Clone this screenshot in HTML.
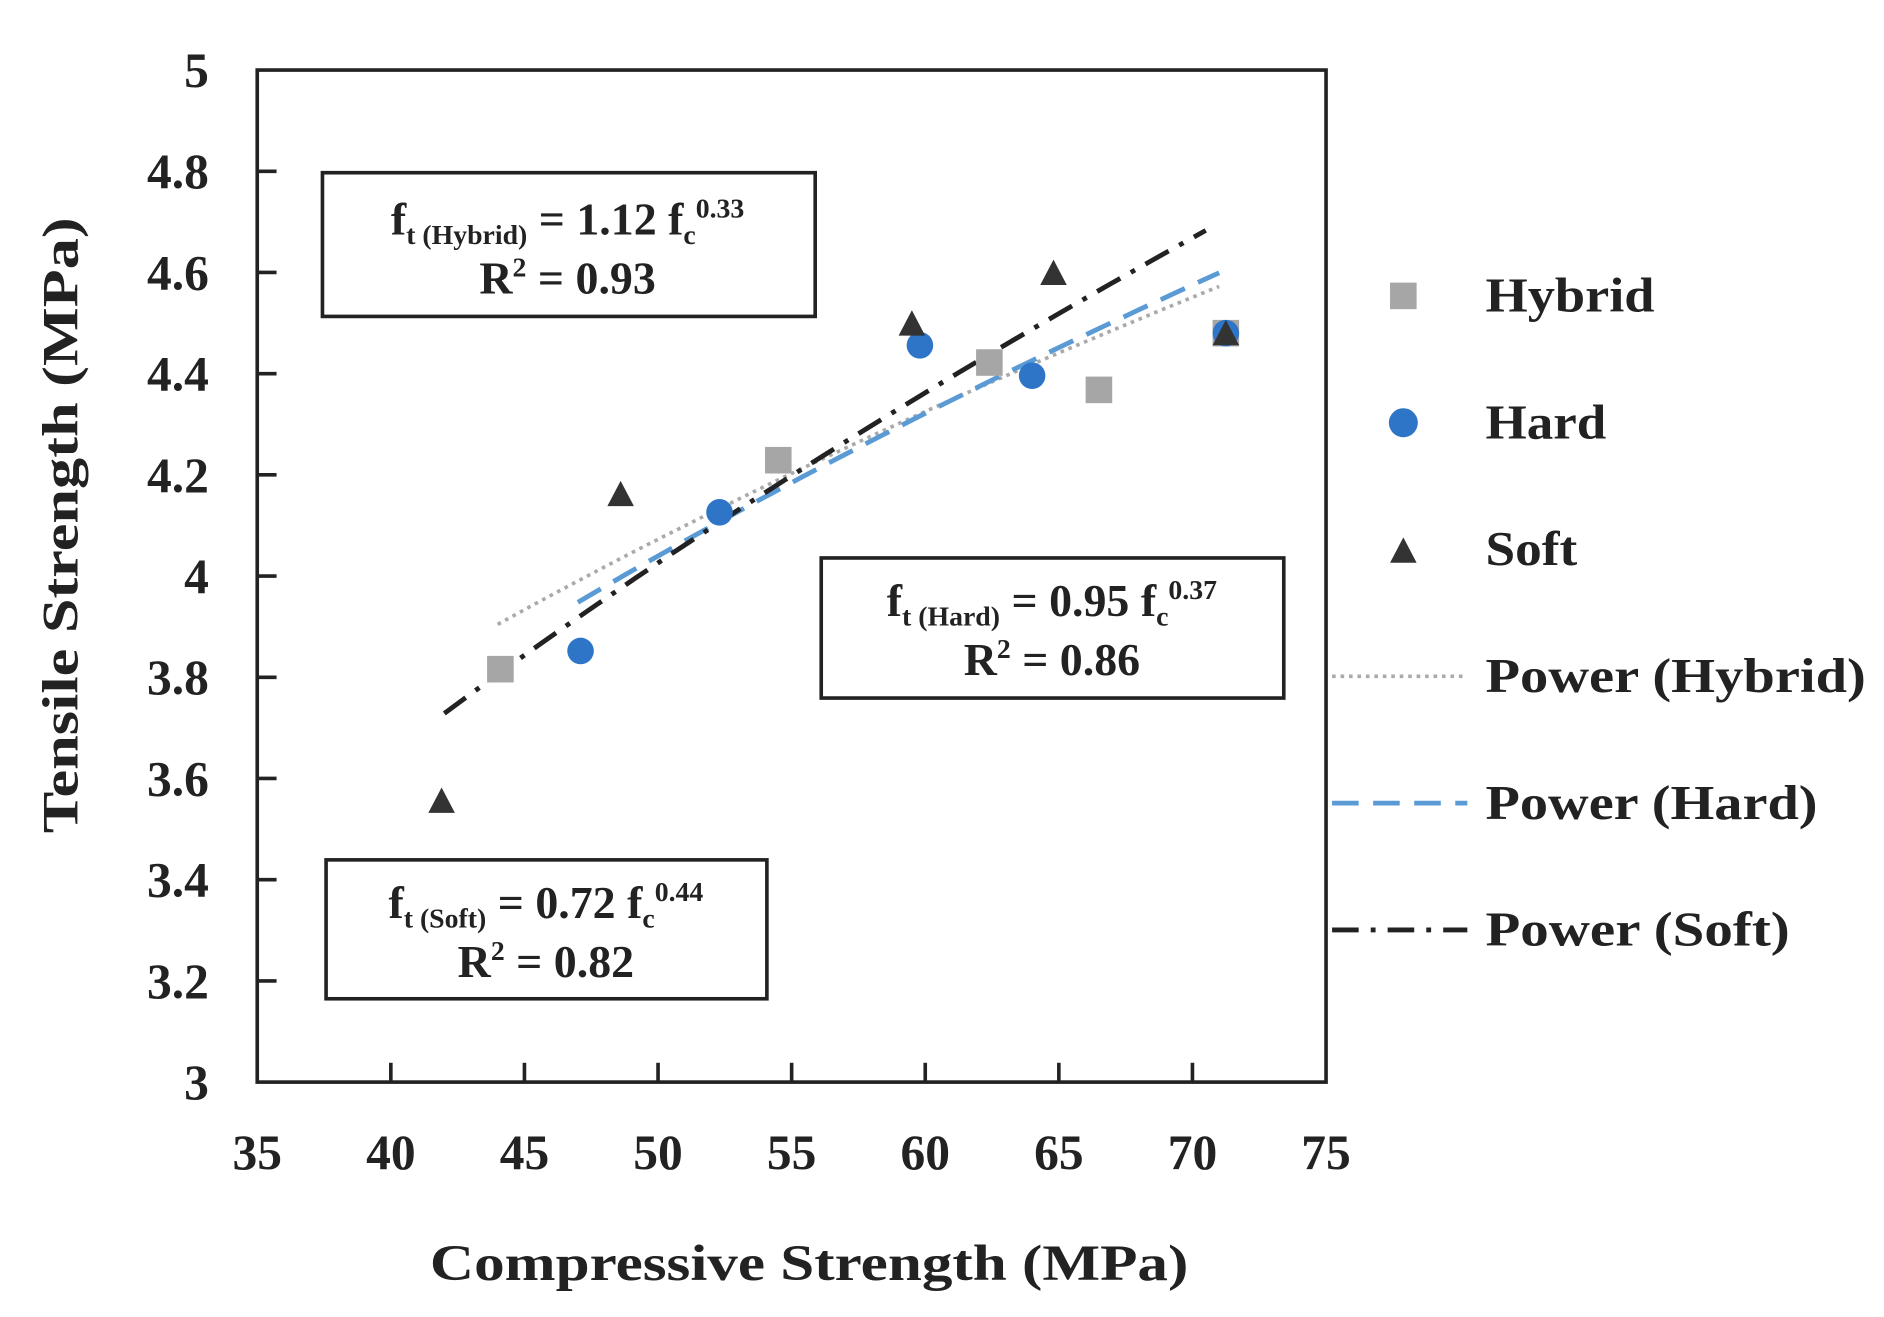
<!DOCTYPE html>
<html><head><meta charset="utf-8"><style>
html,body{margin:0;padding:0;background:#fff;}
svg{display:block;}
text{font-family:"Liberation Serif",serif;font-weight:bold;fill:#222;}
</style></head><body>
<svg id="chart" width="1884" height="1317" viewBox="0 0 1560 1090.5" xmlns="http://www.w3.org/2000/svg">
<rect width="1560" height="1091" fill="#fff"/>
<g id="marks"></g>
<rect x="213" y="58" width="885" height="838" fill="none" stroke="#222" stroke-width="3"/>
<g id="axes"></g>
<text x="670" y="1060" text-anchor="middle" font-size="42" textLength="628" lengthAdjust="spacingAndGlyphs">Compressive Strength (MPa)</text>
<text transform="translate(64,435) rotate(-90)" text-anchor="middle" font-size="42" textLength="510" lengthAdjust="spacingAndGlyphs">Tensile Strength (MPa)</text>

<g>
<rect x="267" y="143" width="408" height="119" fill="#fff" stroke="#222" stroke-width="3"/>
<text x="470" y="194" text-anchor="middle" font-size="38">f<tspan font-size="23" dy="8">t (Hybrid)</tspan><tspan dy="-8"> = 1.12 f</tspan><tspan font-size="23" dy="8">c</tspan><tspan font-size="23" dy="-22">0.33</tspan></text>
<text x="470" y="243" text-anchor="middle" font-size="38">R<tspan font-size="23" dy="-14">2</tspan><tspan dy="14"> = 0.93</tspan></text>
</g>
<g>
<rect x="680" y="462" width="383" height="116" fill="#fff" stroke="#222" stroke-width="3"/>
<text x="871" y="510" text-anchor="middle" font-size="38">f<tspan font-size="23" dy="8">t (Hard)</tspan><tspan dy="-8"> = 0.95 f</tspan><tspan font-size="23" dy="8">c</tspan><tspan font-size="23" dy="-22">0.37</tspan></text>
<text x="871" y="559" text-anchor="middle" font-size="38">R<tspan font-size="23" dy="-14">2</tspan><tspan dy="14"> = 0.86</tspan></text>
</g>
<g>
<rect x="270" y="712" width="365" height="115" fill="#fff" stroke="#222" stroke-width="3"/>
<text x="452" y="760" text-anchor="middle" font-size="38">f<tspan font-size="23" dy="8">t (Soft)</tspan><tspan dy="-8"> = 0.72 f</tspan><tspan font-size="23" dy="8">c</tspan><tspan font-size="23" dy="-22">0.44</tspan></text>
<text x="452" y="809" text-anchor="middle" font-size="38">R<tspan font-size="23" dy="-14">2</tspan><tspan dy="14"> = 0.82</tspan></text>
</g>

<g>
<g><rect x="1151" y="234" width="22" height="22" fill="#a6a6a6"/><text x="1230" y="258" font-size="40" textLength="140" lengthAdjust="spacingAndGlyphs">Hybrid</text></g>
<g><circle cx="1162" cy="350" r="12" fill="#2e75c8"/><text x="1230" y="363" font-size="40" textLength="100" lengthAdjust="spacingAndGlyphs">Hard</text></g>
<g><polygon points="1151,466 1162,445 1173,466" fill="#333"/><text x="1230" y="468" font-size="40" textLength="76" lengthAdjust="spacingAndGlyphs">Soft</text></g>
<g><line x1="1103" y1="560" x2="1215" y2="560" stroke="#aaa" stroke-width="3" stroke-dasharray="3,4"/><text x="1230" y="573" font-size="40" textLength="315" lengthAdjust="spacingAndGlyphs">Power (Hybrid)</text></g>
<g><line x1="1103" y1="665" x2="1215" y2="665" stroke="#5b9bd5" stroke-width="4" stroke-dasharray="22,12"/><text x="1230" y="678" font-size="40" textLength="275" lengthAdjust="spacingAndGlyphs">Power (Hard)</text></g>
<g><line x1="1103" y1="770" x2="1215" y2="770" stroke="#222" stroke-width="4" stroke-dasharray="22,10,4,10"/><text x="1230" y="783" font-size="40" textLength="252" lengthAdjust="spacingAndGlyphs">Power (Soft)</text></g>
</g>
</svg>
<script>
const xTicks = [35,40,45,50,55,60,65,70,75];
const yTicks = [3,3.2,3.4,3.6,3.8,4,4.2,4.4,4.6,4.8,5];
const yTickLabels = ["3","3.2","3.4","3.6","3.8","4","4.2","4.4","4.6","4.8","5"];
const hybridX = [44.1,54.5,62.4,66.5,71.25];
const hybridY = [3.816,4.229,4.422,4.368,4.48];
const hardX = [47.1,52.3,59.8,64.0,71.25];
const hardY = [3.852,4.126,4.456,4.396,4.48];
const softX = [41.9,48.6,59.5,64.8,71.25];
const softY = [3.556,4.162,4.499,4.599,4.48];
const fitCoef = [1.12,0.95,0.72];
const fitExp = [0.33,0.37,0.44];
const fitRange = [[44,71],[47,71],[42,70.5]];

const NS="http://www.w3.org/2000/svg";
const X=v=>213+(v-35)*(885/40);
const Y=v=>896-(v-3)*(838/2);
function mk(tag,attrs,parent){const e=document.createElementNS(NS,tag);for(const k in attrs)e.setAttribute(k,attrs[k]);parent.appendChild(e);return e;}
const axes=document.getElementById('axes'), marks=document.getElementById('marks');
xTicks.forEach((t,i)=>{
  if(i>0&&i<xTicks.length-1){const l=mk('line',{x1:X(t),x2:X(t),y1:896,y2:880,stroke:'#222','stroke-width':3},axes);
  
  }
  const tx=mk('text',{x:X(t),y:968,'text-anchor':'middle','font-size':41},axes);tx.textContent=t;
  
  
});
yTicks.forEach((t,i)=>{
  if(i>0&&i<yTicks.length-1){const l=mk('line',{x1:213,x2:229,y1:Y(t),y2:Y(t),stroke:'#222','stroke-width':3},axes);
  
  }
  const tx=mk('text',{x:173,y:Y(t)+14,'text-anchor':'end','font-size':41},axes);tx.textContent=yTickLabels[i];
  
  
});
const styles=[{stroke:'#aaa',w:3,d:'3,4',n:'trendline-hybrid'},{stroke:'#5b9bd5',w:4,d:'22,12',n:'trendline-hard'},{stroke:'#222',w:4,d:'22,10,4,10',n:'trendline-soft'}];
fitCoef.forEach((a,i)=>{
  const [x0,x1]=fitRange[i];let p='';
  for(let k=0;k<=40;k++){const x=x0+(x1-x0)*k/40;p+=(k?'L':'M')+X(x).toFixed(1)+','+Y(a*Math.pow(x,fitExp[i])).toFixed(1);}
  const e=mk('path',{d:p,fill:'none',stroke:styles[i].stroke,'stroke-width':styles[i].w,'stroke-dasharray':styles[i].d},marks);
  
  
});
hybridX.forEach((x,i)=>{const e=mk('rect',{x:X(x)-11,y:Y(hybridY[i])-11,width:22,height:22,fill:'#a6a6a6'},marks);
  
  });
hardX.forEach((x,i)=>{const e=mk('circle',{cx:X(x),cy:Y(hardY[i]),r:11,fill:'#2e75c8'},marks);
  
  });
softX.forEach((x,i)=>{const cx=X(x),cy=Y(softY[i]);const e=mk('polygon',{points:`${cx-11},${cy+10} ${cx},${cy-11} ${cx+11},${cy+10}`,fill:'#333'},marks);
  
  });
</script>
</body></html>
